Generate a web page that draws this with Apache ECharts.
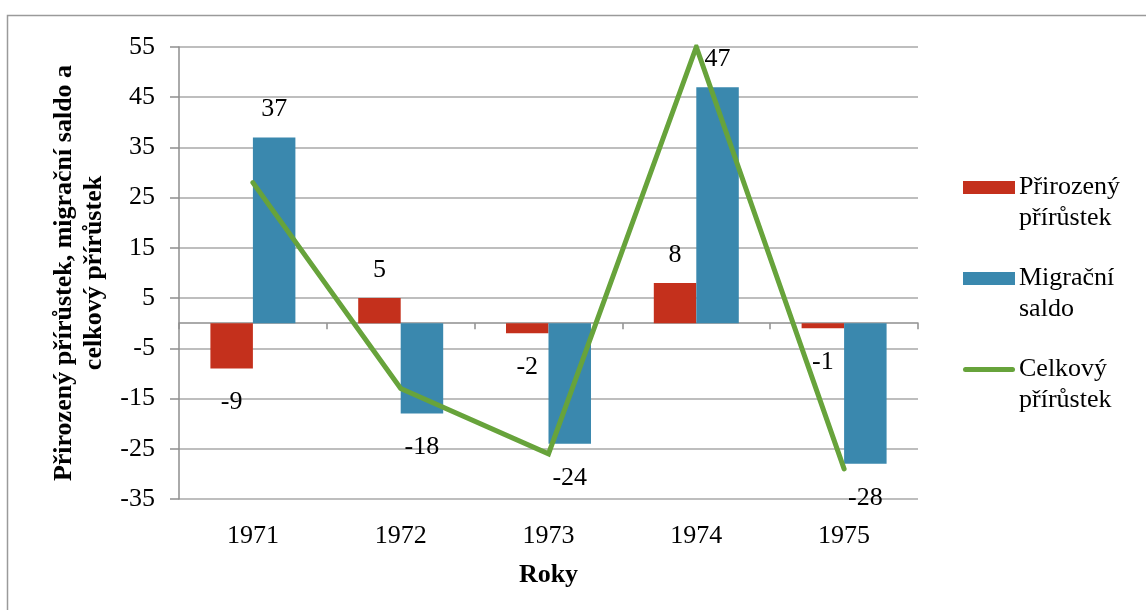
<!DOCTYPE html>
<html>
<head>
<meta charset="utf-8">
<script src="https://cdn.jsdelivr.net/npm/echarts@6/dist/echarts.min.js"></script>
<style>
  html, body { margin: 0; padding: 0; background: #fff; }
  #chart { width: 1146px; height: 610px; }
</style>
</head>
<body>
<div id="chart"></div>
<script>
// data
const years = ['1971', '1972', '1973', '1974', '1975']
const prirozenyPrirustek = [-9, 5, -2, 8, -1]
const migracniSaldo = [37, -18, -24, 47, -28]
const celkovyPrirustek = [28, -13, -26, 55, -29]

const FONT = "'Liberation Serif', 'Times New Roman', serif"
const FS = 26

// thin capsule inside a 52x13 box, used as the legend icon of the line
const LINE_ICON = 'path://M0,0 M52,13 M2.5,4 L49.5,4 A2.5,2.5 0 0 1 49.5,9 L2.5,9 A2.5,2.5 0 0 1 2.5,4 Z'

// label above positive bars, below negative ones
function barData(values) {
  return values.map(v => ({
    value: v,
    label: v < 0 ? { position: 'bottom', distance: 21 } : { position: 'top', distance: 15 }
  }))
}

const chart = echarts.init(document.getElementById('chart'))

const option = {
  animation: false,
  backgroundColor: '#fff',
  textStyle: { fontFamily: FONT },
  graphic: [
    {
      type: 'polyline',
      shape: { points: [[7.5, 610], [7.5, 15.5], [1146, 15.5]] },
      style: { stroke: '#9a9a9a', lineWidth: 1.5, fill: null }
    }
  ],
  grid: {
    left: 179,
    right: 228,
    top: 47,
    bottom: 111
  },
  legend: {
    orient: 'vertical',
    left: 958,
    top: 136,
    itemWidth: 52,
    itemHeight: 13,
    itemGap: -2,
    textStyle: {
      fontFamily: FONT,
      fontSize: FS,
      color: '#000',
      lineHeight: 31,
      padding: [0, 0, 0, -1]
    },
    formatter: name => '\n' + name.replace(' ', '\n'),
    data: [
      { name: 'Přirozený přírůstek', icon: 'rect' },
      { name: 'Migrační saldo', icon: 'rect' },
      { name: 'Celkový přírůstek', icon: LINE_ICON }
    ]
  },
  xAxis: [
    {
      type: 'category',
      data: years,
      position: 'bottom',
      axisLine: { onZero: true, lineStyle: { color: '#8e8e8e', width: 1.5 } },
      axisTick: { show: true, length: 6, lineStyle: { color: '#8e8e8e', width: 1.5 } },
      axisLabel: { show: false },
      splitLine: { show: false }
    },
    {
      type: 'category',
      data: years,
      position: 'bottom',
      axisLine: { show: false, onZero: false },
      axisTick: { show: false },
      axisLabel: { show: true, margin: 24, fontSize: FS, color: '#000', fontFamily: FONT },
      splitLine: { show: false },
      name: 'Roky',
      nameLocation: 'middle',
      nameGap: 63,
      nameTextStyle: { fontSize: FS, fontWeight: 'bold', color: '#000', fontFamily: FONT }
    }
  ],
  yAxis: {
    type: 'value',
    min: -35,
    max: 55,
    interval: 10,
    name: 'Přirozený přírůstek, migrační saldo a\ncelkový přírůstek',
    nameLocation: 'middle',
    nameGap: 64,
    nameTextStyle: { fontSize: FS, fontWeight: 'bold', color: '#000', fontFamily: FONT, lineHeight: 30 },
    axisLine: { show: true, lineStyle: { color: '#8e8e8e', width: 1.5 } },
    axisTick: { show: true, length: 9, lineStyle: { color: '#8e8e8e', width: 1.5 } },
    axisLabel: { margin: 24, fontSize: FS, color: '#000', fontFamily: FONT },
    splitLine: { show: true, lineStyle: { color: '#a8a8a8', width: 1.5 } }
  },
  series: [
    {
      name: 'Přirozený přírůstek',
      type: 'bar',
      barGap: '0%',
      barCategoryGap: '42.5%',
      itemStyle: { color: '#c4301c' },
      label: { show: true, fontSize: FS, color: '#000', fontFamily: FONT },
      data: barData(prirozenyPrirustek)
    },
    {
      name: 'Migrační saldo',
      type: 'bar',
      barGap: '0%',
      barCategoryGap: '42.5%',
      itemStyle: { color: '#3a88ae' },
      label: { show: true, fontSize: FS, color: '#000', fontFamily: FONT },
      data: barData(migracniSaldo)
    },
    {
      name: 'Celkový přírůstek',
      type: 'line',
      symbol: 'none',
      z: 3,
      itemStyle: { color: '#67a33b' },
      lineStyle: { color: '#67a33b', width: 5, join: 'miter', cap: 'round' },
      data: celkovyPrirustek
    }
  ]
}

chart.setOption(option)
</script>
</body>
</html>
